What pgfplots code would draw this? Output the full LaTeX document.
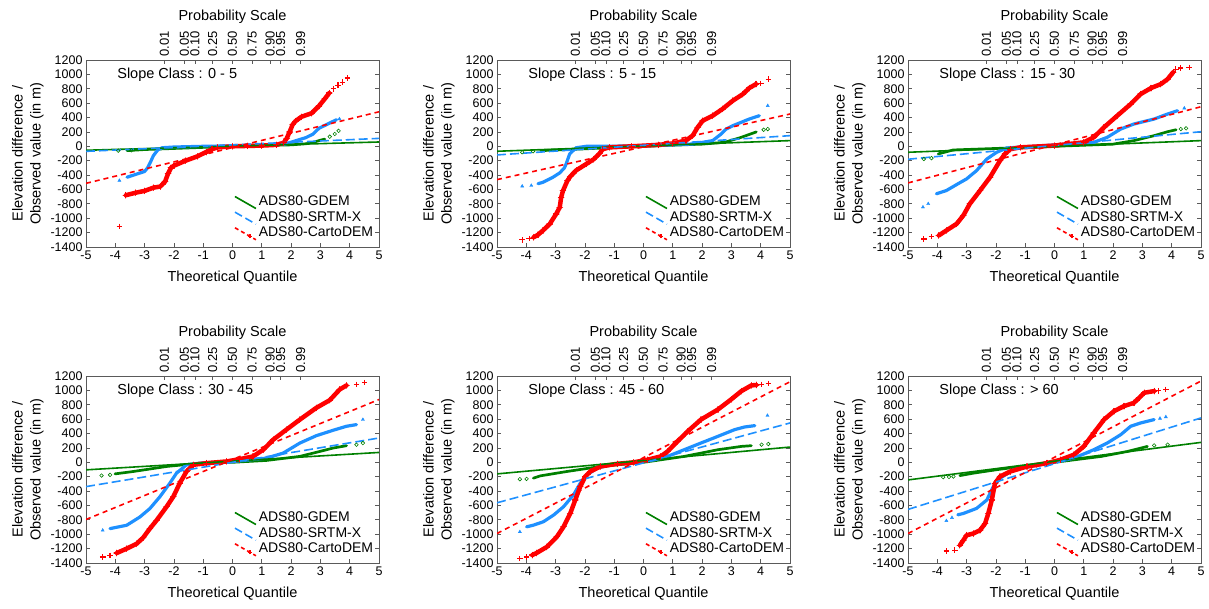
\documentclass[border=0pt]{standalone}
\usepackage{fontspec}
\setmainfont{Liberation Sans}
\usepackage{pgfplots}
\pgfplotsset{compat=1.18}
\definecolor{rcol}{RGB}{255,0,0}
\definecolor{bcol}{RGB}{30,144,255}
\definecolor{gcol}{RGB}{0,128,0}
\definecolor{axcol}{RGB}{90,90,90}
\pgfplotsset{
 qq/.style={scale only axis, width=293bp, height=187bp,
   xmin=-5, xmax=5, ymin=-1400, ymax=1200,
   xtick={-5,-4,...,5}, ytick={-1400,-1200,...,1200},
   tick align=inside, xtick pos=left, ytick pos=both, yticklabel pos=left,
   major tick length=4bp,
   axis line style={axcol, line width=0.8bp}, tick style={axcol, line width=0.8bp},
   /pgf/number format/assume math mode=true,
   /pgf/number format/1000 sep={},
   ticklabel style={font=\fontsize{12.5bp}{14bp}\selectfont},
   xlabel={Theoretical Quantile},
   ylabel={Elevation difference /\\Observed value (in m)},
   label style={font=\fontsize{14.5bp}{18bp}\selectfont},
   xlabel style={yshift=-5bp},
   ylabel style={align=center},
   legend style={at={(0.505,0.285)}, anchor=north west, draw=none, fill=none,
     font=\fontsize{14bp}{15bp}\selectfont, row sep=0.2bp, inner sep=0pt},
   legend cell align=left,
 },
 topax/.style={scale only axis, width=293bp, height=187bp,
   xmin=-5, xmax=5, ymin=0, ymax=1, axis x line*=top, hide y axis,
   xtick={-2.3263,-1.6449,-1.2816,-0.6745,0,0.6745,1.2816,1.6449,2.3263},
   xticklabels={0.01,0.05,0.10,0.25,0.50,0.75,0.90,0.95,0.99},
   xticklabel style={rotate=90, anchor=west, font=\fontsize{13bp}{14bp}\selectfont},
   tick align=inside, major tick length=4bp,
   axis line style={axcol, line width=0.8bp}, tick style={axcol, line width=0.8bp},
   xlabel={Probability Scale},
   xlabel style={font=\fontsize{14.5bp}{18bp}\selectfont, yshift=1bp},
 },
 rcore/.style={rcol, line width=4.5bp, line join=round, line cap=round, mark=+, mark size=2.7bp, mark options={line width=1.2bp}, forget plot},
 rtail/.style={rcol, only marks, mark=+, mark size=2.8bp, mark options={line width=1.2bp}, forget plot},
 bcore/.style={bcol, line width=3.2bp, line join=round, line cap=round, forget plot},
 btail/.style={bcol, only marks, mark=triangle*, mark size=1.8bp, forget plot},
 gcore/.style={gcol, line width=2.7bp, line join=round, line cap=round, forget plot},
 gtail/.style={gcol, only marks, mark=o, mark size=1.8bp, mark options={line width=0.6bp}, forget plot},
 rline/.style={rcol, line width=1.6bp, dash pattern=on 5bp off 4bp, forget plot},
 bline/.style={bcol, line width=1.6bp, dash pattern=on 9bp off 4bp, forget plot},
 gline/.style={gcol, line width=1.6bp, forget plot},
}
\newcommand\legs{%
 \addlegendimage{legend image code/.code={\draw[gcol,line width=1.6bp] (0bp,5bp) -- (21bp,-7bp);}}
 \addlegendentry{ADS80-GDEM}
 \addlegendimage{legend image code/.code={\draw[bcol,line width=1.6bp,dash pattern=on 8bp off 4bp] (0bp,5bp) -- (21bp,-7bp);}}
 \addlegendentry{ADS80-SRTM-X}
 \addlegendimage{legend image code/.code={\draw[rcol,line width=1.6bp,dash pattern=on 4bp off 3bp] (0bp,5bp) -- (21bp,-7bp);
   \draw[rcol,line width=1.2bp] (15bp,-3.5bp) +(-2bp,0) -- +(2bp,0) +(0,-2bp) -- +(0,2bp);}}
 \addlegendentry{ADS80-CartoDEM}
}
\newcommand\slope[1]{\node[anchor=west, font=\fontsize{14.5bp}{17bp}\selectfont] at (axis cs:-4.05,1000) {Slope Class : #1};}
\begin{document}
\begin{tikzpicture}
\useasboundingbox (0,0) rectangle (1209bp,609bp);
% ---------------- Panel 1: 0 - 5
\begin{axis}[topax, at={(86bp,362bp)}, anchor=south west]
\end{axis}
\begin{axis}[qq, at={(86bp,362bp)}, anchor=south west]
\legs
\addplot[gcore] coordinates {(-3.6,-60) (-3.0,-45) (-2,-30) (-1,-15) (0,0) (1,10) (2,20) (2.5,35) (2.8,60) (3.0,85) (3.15,100)};
\addplot[gtail] coordinates {(-3.9,-60) (-3.45,-55) (3.32,134) (3.49,171) (3.62,215)};
\addplot[bcore] coordinates {(-3.6,-430) (-3.3,-390) (-3.0,-350) (-2.9,-300) (-2.8,-220) (-2.7,-130) (-2.55,-50) (-2.4,-20) (-2.0,-10) (-1,0) (0,5) (1,15) (1.8,30) (2.1,70) (2.5,120) (2.75,170) (2.95,250) (3.2,300) (3.4,340) (3.55,370)};
\addplot[btail] coordinates {(-3.86,-476) (3.65,380)};
\addplot[rcore] coordinates {(-3.64,-680) (-3.3,-645) (-3.0,-620) (-2.7,-575) (-2.47,-560) (-2.3,-490) (-2.2,-380) (-2.1,-300) (-2.0,-270) (-1.6,-200) (-1.2,-140) (-0.9,-80) (-0.7,-40) (-0.5,-15) (0,0) (0.5,5) (1.0,10) (1.5,20) (1.75,50) (1.85,110) (1.95,200) (2.05,300) (2.15,350) (2.35,410) (2.7,460) (2.95,560) (3.15,660) (3.3,740)};
\addplot[rtail] coordinates {(-3.86,-1115) (3.45,800) (3.6,850) (3.75,890) (3.92,950)};
\addplot[gline] coordinates {(-5,-55) (5,60)};
\addplot[bline] coordinates {(-5,-70) (5,110)};
\addplot[rline] coordinates {(-5,-515) (5,480)};
\slope{0 - 5}
\end{axis}
% ---------------- Panel 2: 5 - 15
\begin{axis}[topax, at={(497bp,362bp)}, anchor=south west]
\end{axis}
\begin{axis}[qq, at={(497bp,362bp)}, anchor=south west]
\legs
\addplot[gcore] coordinates {(-3.5,-60) (-2,-35) (0,0) (1,15) (2,30) (2.6,50) (2.8,60) (3.05,90) (3.3,120) (3.61,165) (3.85,200)};
\addplot[gtail] coordinates {(-4.14,-83) (-3.77,-69) (4.1,230) (4.24,240)};
\addplot[bcore] coordinates {(-3.6,-520) (-3.43,-500) (-3.09,-430) (-2.86,-370) (-2.7,-300) (-2.64,-245) (-2.52,-106) (-2.3,-20) (-1.95,0) (0,5) (1.68,32) (2.36,79) (2.65,171) (2.82,240) (3.05,287) (3.61,379) (3.95,425)};
\addplot[btail] coordinates {(-4.14,-555) (-3.83,-546) (4.24,564)};
\addplot[rcore] coordinates {(-3.75,-1265) (-3.6,-1230) (-3.43,-1170) (-3.2,-1080) (-2.98,-940) (-2.86,-850) (-2.81,-710) (-2.75,-620) (-2.6,-480) (-2.5,-420) (-2.3,-335) (-1.95,-245) (-1.7,-180) (-1.5,-100) (-1.39,-40) (-1.16,-15) (-0.4,0) (0.5,20) (1.0,40) (1.45,80) (1.68,150) (1.85,265) (2.02,355) (2.36,425) (2.7,520) (3.05,635) (3.39,725) (3.61,810) (3.84,865)};
\addplot[rtail] coordinates {(-4.14,-1300) (-3.9,-1280) (4.0,875) (4.26,934)};
\addplot[gline] coordinates {(-5,-69) (5,79)};
\addplot[bline] coordinates {(-5,-120) (5,148)};
\addplot[rline] coordinates {(-5,-463) (5,449)};
\slope{5 - 15}
\end{axis}
% ---------------- Panel 3: 15 - 30
\begin{axis}[topax, at={(908bp,362bp)}, anchor=south west]
\end{axis}
\begin{axis}[qq, at={(908bp,362bp)}, anchor=south west]
\legs
\addplot[gcore] coordinates {(-3.97,-106) (-3.46,-51) (-2,-30) (0,0) (2,30) (2.71,79) (3.4,148) (3.86,203) (4.15,230)};
\addplot[gtail] coordinates {(-4.46,-176) (-4.2,-165) (4.31,240) (4.49,250)};
\addplot[bcore] coordinates {(-4.03,-660) (-3.69,-615) (-3.34,-532) (-3.0,-453) (-2.66,-338) (-2.31,-176) (-1.97,-83) (-1.63,-23) (-0.71,0) (1.34,55) (1.8,125) (2.26,240) (2.71,310) (3.4,379) (3.86,449) (4.2,495)};
\addplot[btail] coordinates {(-4.49,-846) (-4.31,-800) (4.43,530)};
\addplot[rcore] coordinates {(-3.95,-1240) (-3.69,-1170) (-3.34,-1078) (-3.11,-960) (-2.89,-800) (-2.54,-615) (-2.2,-430) (-1.86,-200) (-1.69,-106) (-1.51,-40) (-1.17,-15) (0,10) (1.0,55) (1.34,125) (1.69,264) (2.14,425) (2.6,587) (2.94,726) (3.29,809) (3.63,865) (3.86,934) (4.05,1030)};
\addplot[rtail] coordinates {(-4.46,-1290) (-4.2,-1255) (4.14,1073) (4.3,1090) (4.6,1096)};
\addplot[gline] coordinates {(-5,-83) (5,79)};
\addplot[bline] coordinates {(-5,-180) (5,203)};
\addplot[rline] coordinates {(-5,-509) (5,550)};
\slope{15 - 30}
\end{axis}
% ---------------- Panel 4: 30 - 45
\begin{axis}[topax, at={(86bp,46bp)}, anchor=south west]
\end{axis}
\begin{axis}[qq, at={(86bp,46bp)}, anchor=south west]
\legs
\addplot[gcore] coordinates {(-4.01,-161) (-3.39,-128) (-2.25,-58) (-1.11,-12) (0,0) (1.16,26) (2.3,82) (2.98,151) (3.43,198) (3.89,231)};
\addplot[gtail] coordinates {(-4.47,-184) (-4.18,-175) (4.23,245) (4.45,268)};
\addplot[bcore] coordinates {(-4.18,-922) (-3.61,-875) (-3.16,-760) (-2.82,-643) (-2.48,-480) (-2.14,-291) (-1.91,-151) (-1.57,-35) (-1.11,-12) (0.02,12) (1.16,58) (1.73,128) (2.3,268) (2.86,370) (3.43,445) (3.89,501) (4.23,524)};
\addplot[btail] coordinates {(-4.43,-946) (4.45,594)};
\addplot[rcore] coordinates {(-3.95,-1261) (-3.61,-1200) (-3.27,-1132) (-3.05,-1048) (-2.82,-922) (-2.59,-806) (-2.25,-618) (-2.02,-478) (-1.8,-291) (-1.57,-128) (-1.34,-35) (-0.89,-12) (-0.2,12) (0.25,44) (0.7,82) (1.05,175) (1.39,315) (1.84,454) (2.3,594) (2.86,757) (3.32,864) (3.66,1013) (3.89,1069)};
\addplot[rtail] coordinates {(-4.43,-1316) (-4.18,-1293) (4.23,1083) (4.51,1107)};
\addplot[gline] coordinates {(-5,-105) (5,137)};
\addplot[bline] coordinates {(-5,-338) (5,338)};
\addplot[rline] coordinates {(-5,-795) (5,873)};
\slope{30 - 45}
\end{axis}
% ---------------- Panel 5: 45 - 60
\begin{axis}[topax, at={(497bp,46bp)}, anchor=south west]
\end{axis}
\begin{axis}[qq, at={(497bp,46bp)}, anchor=south west]
\legs
\addplot[gcore] coordinates {(-3.76,-221) (-3.53,-189) (-2.62,-128) (-1.47,-58) (0,0) (1.39,82) (2.54,175) (3.34,221) (3.68,231)};
\addplot[gtail] coordinates {(-4.22,-235) (-3.99,-231) (4.03,245) (4.26,254)};
\addplot[bcore] coordinates {(-3.99,-897) (-3.76,-874) (-3.42,-827) (-3.07,-734) (-2.73,-618) (-2.39,-454) (-2.16,-291) (-1.93,-175) (-1.59,-82) (-1.13,-35) (-0.33,0) (0.36,35) (0.82,82) (1.39,175) (1.96,268) (2.54,361) (3.11,454) (3.45,491) (3.8,510)};
\addplot[btail] coordinates {(-4.22,-967) (4.23,650)};
\addplot[rcore] coordinates {(-3.8,-1290) (-3.65,-1261) (-3.3,-1177) (-2.96,-1037) (-2.73,-897) (-2.5,-711) (-2.33,-524) (-2.16,-338) (-1.99,-198) (-1.82,-128) (-1.47,-58) (-0.9,-21) (-0.33,0) (0.13,35) (0.59,82) (0.82,151) (1.16,291) (1.51,431) (1.96,594) (2.54,734) (2.99,874) (3.34,990) (3.68,1069) (3.85,1075)};
\addplot[rtail] coordinates {(-4.22,-1340) (-3.99,-1316) (4.03,1083) (4.26,1097)};
\addplot[gline] coordinates {(-5,-161) (5,212)};
\addplot[bline] coordinates {(-5,-563) (5,547)};
\addplot[rline] coordinates {(-5,-990) (5,1120)};
\slope{45 - 60}
\end{axis}
% ---------------- Panel 6: > 60
\begin{axis}[topax, at={(908bp,46bp)}, anchor=south west]
\end{axis}
\begin{axis}[qq, at={(908bp,46bp)}, anchor=south west]
\legs
\addplot[gcore] coordinates {(-3.23,-185) (-2.77,-151) (-1.86,-96) (0,0) (1.6,82) (2.49,151) (3.17,221)};
\addplot[gtail] coordinates {(-3.8,-207) (-3.6,-203) (-3.45,-198) (3.4,235) (3.86,245)};
\addplot[bcore] coordinates {(-3.3,-730) (-3.11,-711) (-2.66,-641) (-2.31,-524) (-2.09,-338) (-1.86,-221) (-1.4,-105) (-0.71,-49) (-0.03,0) (0.66,58) (1.34,175) (1.8,268) (2.26,384) (2.6,501) (2.94,547) (3.4,594)};
\addplot[btail] coordinates {(-3.69,-813) (-3.5,-770) (3.6,610) (3.8,631)};
\addplot[rcore] coordinates {(-3.23,-1153) (-3.11,-1083) (-3.0,-1014) (-2.77,-990) (-2.54,-944) (-2.37,-851) (-2.26,-711) (-2.14,-524) (-2.03,-291) (-1.86,-198) (-1.51,-128) (-0.94,-58) (-0.26,-12) (0.2,35) (0.66,105) (1.0,221) (1.34,408) (1.69,594) (2.03,711) (2.37,781) (2.71,827) (2.89,897) (3.06,967) (3.4,990)};
\addplot[rtail] coordinates {(-3.69,-1232) (-3.4,-1223) (3.55,995) (3.8,1014)};
\addplot[gline] coordinates {(-5,-245) (5,277)};
\addplot[bline] coordinates {(-5,-655) (5,617)};
\addplot[rline] coordinates {(-5,-990) (5,1130)};
\slope{> 60}
\end{axis}
\end{tikzpicture}
\end{document}
